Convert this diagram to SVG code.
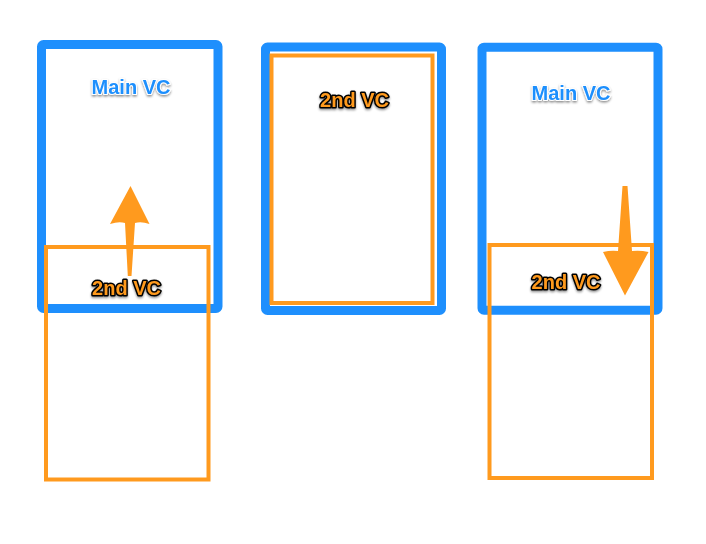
<svg xmlns="http://www.w3.org/2000/svg" width="706" height="544" viewBox="0 0 706 544">
<defs>
<filter id="sh" x="-20%" y="-40%" width="140%" height="180%">
<feDropShadow dx="0" dy="1.5" stdDeviation="1.2" flood-color="#000" flood-opacity="0.45"/>
</filter>
</defs>
<style>
.main{fill:none;stroke:#1E8FFD;stroke-width:9;stroke-linejoin:round}
.second{fill:none;stroke:#FF9A1E;stroke-width:4}
.lblMain{font-family:"Liberation Sans",Arial,sans-serif;font-weight:bold;font-size:20px;fill:#1E8FFD;stroke:#fff;stroke-width:2;paint-order:stroke;text-anchor:middle;filter:url(#sh)}
.lbl2{font-family:"Liberation Sans",Arial,sans-serif;font-weight:bold;font-size:20px;fill:#FF9A1E;stroke:#000;stroke-width:3;stroke-linejoin:round;paint-order:stroke;text-anchor:middle;filter:url(#sh)}
.arrow{fill:#FF9A1E;stroke:none}
</style>
<rect width="706" height="544" fill="#fff"/>
<g id="panel1">
<rect class="main" x="41.5" y="44.5" width="176.5" height="264" rx="2"/>
<text class="lblMain" x="131" y="94">Main VC</text>
</g>
<g id="panel1-second">
<rect class="second" x="46" y="247" width="162.5" height="232.5"/>
<text class="lbl2" x="126.5" y="295">2nd VC</text>
</g>
<g id="panel2">
<rect class="main" x="265.5" y="47" width="176" height="263.5" rx="2"/>
</g>
<g id="panel2-second">
<rect class="second" x="271.5" y="55.5" width="161" height="247.5"/>
<text class="lbl2" x="354.5" y="106.5">2nd VC</text>
</g>
<g id="panel3">
<rect class="main" x="482" y="47.2" width="176" height="263" rx="2"/>
<text class="lblMain" x="571" y="100">Main VC</text>
</g>
<g id="panel3-second">
<rect class="second" x="489.5" y="245" width="162.5" height="233"/>
<text class="lbl2" x="566" y="288.5">2nd VC</text>
</g>
<g id="connectors">
<path class="arrow" d="M130.5,186 L149.5,224 Q141,221 135,223 L131.5,276 L127.8,276 L125,223 Q119,221 110,224 Z"/>
<path class="arrow" d="M622.5,186 L627.5,186 L632,251 Q640,250 648.5,252 L625,295.5 L603,252 Q611,250 618,251 Z"/>
</g>
</svg>
